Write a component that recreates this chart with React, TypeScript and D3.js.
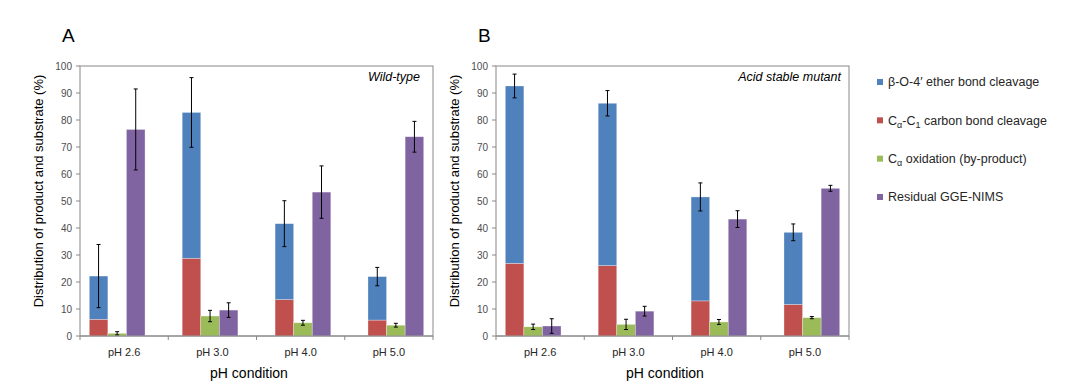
import React from "react";
import * as d3 from "d3";

const categories = ["pH 2.6", "pH 3.0", "pH 4.0", "pH 5.0"];
const yTicks = [0, 10, 20, 30, 40, 50, 60, 70, 80, 90, 100];

// wild-type
const wtCarbon = [6.2, 28.8, 13.5, 5.9];
const wtEther = [16.0, 54.0, 28.1, 16.1];
const wtCleavageErr = [11.7, 12.9, 8.5, 3.4];
const wtOxidation = [1.0, 7.4, 4.9, 4.0];
const wtOxidationErr = [0.6, 2.1, 0.9, 0.7];
const wtResidual = [76.5, 9.6, 53.3, 73.8];
const wtResidualErr = [15.0, 2.7, 9.7, 5.7];

// acid stable mutant
const muCarbon = [26.9, 26.1, 13.0, 11.7];
const muEther = [65.7, 60.1, 38.5, 26.7];
const muCleavageErr = [4.4, 4.7, 5.2, 3.1];
const muOxidation = [3.4, 4.3, 5.2, 6.8];
const muOxidationErr = [1.0, 1.9, 0.9, 0.4];
const muResidual = [3.7, 9.2, 43.3, 54.7];
const muResidualErr = [2.7, 1.8, 3.1, 1.1];

const BLUE = "#4f81bd";
const RED = "#c0504d";
const GREEN = "#9bbb59";
const PURPLE = "#8064a2";
const FONT = "'Liberation Sans', Arial, sans-serif";
const AXIS = "#888888";

const top = 66;
const bottom = 336;

type PanelProps = {
  letter: string;
  note: string;
  noteInset: number;
  x0: number;
  x1: number;
  carbon: number[];
  ether: number[];
  cleavageErr: number[];
  oxidation: number[];
  oxidationErr: number[];
  residual: number[];
  residualErr: number[];
};

function ErrorBar({ x, y0, y1 }: { x: number; y0: number; y1: number }) {
  return (
    <g stroke="#000" strokeWidth={1}>
      <line x1={x} x2={x} y1={y0} y2={y1} />
      <line x1={x - 2} x2={x + 2} y1={y0} y2={y0} />
      <line x1={x - 2} x2={x + 2} y1={y1} y2={y1} />
    </g>
  );
}

function Panel(p: PanelProps) {
  const y = d3.scaleLinear().domain([0, 100]).range([bottom, top]);
  const xAxis = d3.scaleBand().domain(categories).range([p.x0, p.x1]);
  // excel puts the bar groups on a slightly wider pitch than the axis bands
  const xBars = d3.scaleBand().domain(categories).range([p.x0 - 9.3, p.x1 + 9.3]);
  const sub = d3
    .scaleBand()
    .domain(["cleavage", "oxidation", "residual"])
    .range([0, xBars.bandwidth()])
    .paddingOuter(1);
  const bw = sub.bandwidth();
  const midX = (p.x0 + p.x1) / 2;

  return (
    <g>
      <text x={p.x0 - 18} y={42} fontSize={19} fontFamily={FONT} fill="#000">
        {p.letter}
      </text>
      <rect x={p.x0} y={top} width={p.x1 - p.x0} height={bottom - top} fill="none" stroke={AXIS} strokeWidth={1} />
      {yTicks.map((t) => (
        <g key={t}>
          <line x1={p.x0 - 4} x2={p.x0} y1={y(t)} y2={y(t)} stroke={AXIS} />
          <text x={p.x0 - 8} y={y(t)} dy="0.35em" textAnchor="end" fontSize={10} fontFamily={FONT} fill="#4d4d4d">
            {t}
          </text>
        </g>
      ))}
      {[...categories.map((c) => xAxis(c) as number), p.x1].map((v, i) => (
        <line key={i} x1={v} x2={v} y1={bottom} y2={bottom + 4} stroke={AXIS} />
      ))}
      {categories.map((c) => (
        <text
          key={c}
          x={(xAxis(c) as number) + xAxis.bandwidth() / 2}
          y={356}
          textAnchor="middle"
          fontSize={11}
          fontFamily={FONT}
          fill="#262626"
        >
          {c}
        </text>
      ))}
      {categories.map((c, i) => {
        const gx = xBars(c) as number;
        const xc = gx + (sub("cleavage") as number);
        const xo = gx + (sub("oxidation") as number);
        const xr = gx + (sub("residual") as number);
        const total = p.carbon[i] + p.ether[i];
        return (
          <g key={c}>
            <rect x={xc} y={y(p.carbon[i])} width={bw} height={bottom - y(p.carbon[i])} fill={RED} stroke="#fff" strokeOpacity={0.5} strokeWidth={0.6} />
            <rect x={xc} y={y(total)} width={bw} height={y(p.carbon[i]) - y(total)} fill={BLUE} stroke="#fff" strokeOpacity={0.5} strokeWidth={0.6} />
            <rect x={xo} y={y(p.oxidation[i])} width={bw} height={bottom - y(p.oxidation[i])} fill={GREEN} stroke="#fff" strokeOpacity={0.5} strokeWidth={0.6} />
            <rect x={xr} y={y(p.residual[i])} width={bw} height={bottom - y(p.residual[i])} fill={PURPLE} stroke="#fff" strokeOpacity={0.5} strokeWidth={0.6} />
            <ErrorBar x={xc + bw / 2} y0={y(total + p.cleavageErr[i])} y1={y(total - p.cleavageErr[i])} />
            <ErrorBar x={xo + bw / 2} y0={y(p.oxidation[i] + p.oxidationErr[i])} y1={y(p.oxidation[i] - p.oxidationErr[i])} />
            <ErrorBar x={xr + bw / 2} y0={y(p.residual[i] + p.residualErr[i])} y1={y(p.residual[i] - p.residualErr[i])} />
          </g>
        );
      })}
      <line x1={p.x0} x2={p.x1} y1={bottom} y2={bottom} stroke={AXIS} />
      <text x={p.x1 - p.noteInset} y={81} textAnchor="end" fontSize={12.5} fontStyle="italic" fontFamily={FONT} fill="#000">
        {p.note}
      </text>
      <text
        transform={`translate(${p.x0 - 41.5},191) rotate(-90)`}
        textAnchor="middle"
        dy="0.35em"
        fontSize={13}
        fontFamily={FONT}
        fill="#000"
      >
        Distribution of product and substrate (%)
      </text>
      <text x={midX - 7.5} y={378} textAnchor="middle" fontSize={14} fontFamily={FONT} fill="#000">
        pH condition
      </text>
    </g>
  );
}

const legendRows = [
  { color: BLUE, key: "ether" },
  { color: RED, key: "carbon" },
  { color: GREEN, key: "oxidation" },
  { color: PURPLE, key: "residual" },
];

function LegendLabel({ k }: { k: string }) {
  if (k === "ether") return <>β-O-4′ ether bond cleavage</>;
  if (k === "carbon")
    return (
      <>
        C<tspan fontSize={9} dy={3}>α</tspan>
        <tspan dy={-3}>-C</tspan>
        <tspan fontSize={9} dy={3}>1</tspan>
        <tspan dy={-3}> carbon bond cleavage</tspan>
      </>
    );
  if (k === "oxidation")
    return (
      <>
        C<tspan fontSize={9} dy={3}>α</tspan>
        <tspan dy={-3}> oxidation (by-product)</tspan>
      </>
    );
  return <>Residual GGE-NIMS</>;
}

export default function App() {
  const legendY = d3.scalePoint().domain(legendRows.map((r) => r.key)).range([82, 197]);
  return (
    <svg width={1080} height={388} style={{ position: "absolute", left: 0, top: 0, background: "#fff" }}>
      <Panel
        letter="A"
        note="Wild-type"
        noteInset={13}
        x0={80}
        x1={433}
        carbon={wtCarbon}
        ether={wtEther}
        cleavageErr={wtCleavageErr}
        oxidation={wtOxidation}
        oxidationErr={wtOxidationErr}
        residual={wtResidual}
        residualErr={wtResidualErr}
      />
      <Panel
        letter="B"
        note="Acid stable mutant"
        noteInset={8}
        x0={496}
        x1={849}
        carbon={muCarbon}
        ether={muEther}
        cleavageErr={muCleavageErr}
        oxidation={muOxidation}
        oxidationErr={muOxidationErr}
        residual={muResidual}
        residualErr={muResidualErr}
      />
      {legendRows.map((r) => {
        const ly = legendY(r.key) as number;
        return (
          <g key={r.key}>
            <rect x={877} y={ly - 3} width={6} height={6} fill={r.color} />
            <text x={888} y={ly} dy="0.35em" fontSize={12.5} fontFamily={FONT} fill="#262626">
              <LegendLabel k={r.key} />
            </text>
          </g>
        );
      })}
    </svg>
  );
}
